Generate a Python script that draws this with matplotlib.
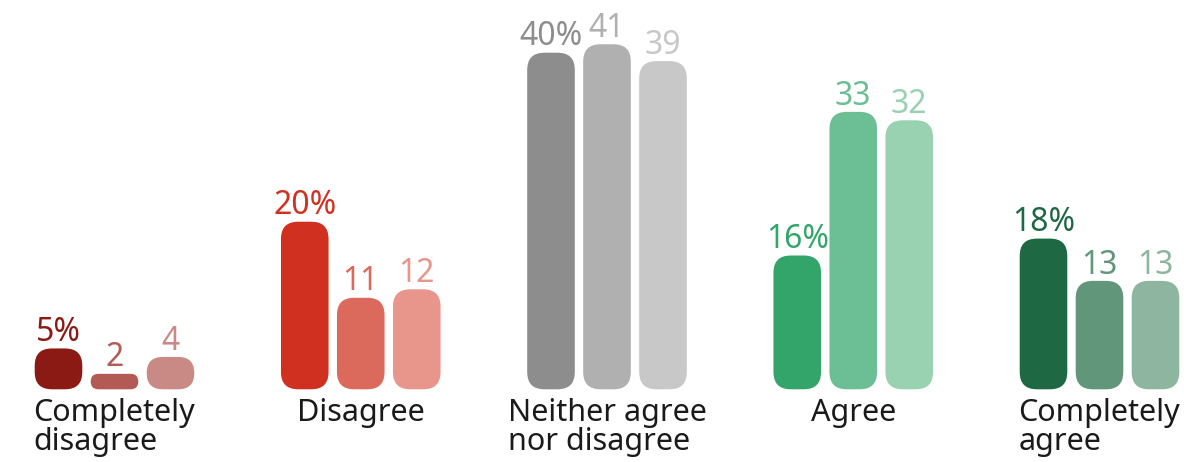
import matplotlib.pyplot as plt
from matplotlib.patches import FancyBboxPatch

categories = ["Completely\ndisagree", "Disagree", "Neither agree\nnor disagree", "Agree", "Completely\nagree"]
series_a = [5, 20, 40, 16, 18]
series_b = [2, 11, 41, 33, 13]
series_c = [4, 12, 39, 32, 13]

colors = [
    ["#8b1a14", "#b35a55", "#c98a86"],
    ["#d03020", "#dc6a5c", "#e8968c"],
    ["#8e8d8e", "#b0b0b0", "#c8c8c8"],
    ["#33a56a", "#6cbf94", "#98d2b1"],
    ["#1e6843", "#62967a", "#8db5a0"],
]

plt.rcParams['font.family'] = ['Noto Sans', 'DejaVu Sans']

W, H = 1184, 462
fig = plt.figure(figsize=(W / 100, H / 100), dpi=100)
base_px = 72
ax = fig.add_axes([0, base_px / H, 1, (H - base_px) / H])

px_per_group = 246.25
px_per_unit = 8.45
ax.set_xlim(-114.5 / px_per_group, (W - 114.5) / px_per_group)
ax.set_ylim(0, (H - base_px) / px_per_unit)
ax.axis('off')

bar_w = 49 / px_per_group
step = 56 / px_per_group
aspect = px_per_group / px_per_unit
radius_px = 18

for i, cat in enumerate(categories):
    values = [series_a[i], series_b[i], series_c[i]]
    for j, v in enumerate(values):
        x = i + (j - 1) * step
        h_px = v * px_per_unit
        r = min(radius_px, h_px / 2) / px_per_group
        patch = FancyBboxPatch((x - bar_w / 2, 0), bar_w, v,
                               boxstyle=f"round,pad=0,rounding_size={r}",
                               mutation_aspect=aspect,
                               facecolor=colors[i][j], edgecolor="white",
                               linewidth=1.0)
        ax.add_patch(patch)
        label = f"{v}%" if j == 0 else f"{v}"
        ax.annotate(label, (x, v), xytext=(0, -1), textcoords='offset points',
                    ha='center', va='bottom', fontsize=23, color=colors[i][j])
    ax.annotate(cat, (i, 0), xytext=(0, -6), textcoords='offset points',
                ha='center', va='top', multialignment='left',
                fontsize=22, color="#1a1a1a", linespacing=0.95,
                annotation_clip=False)

fig.savefig("out.png", dpi=100)
